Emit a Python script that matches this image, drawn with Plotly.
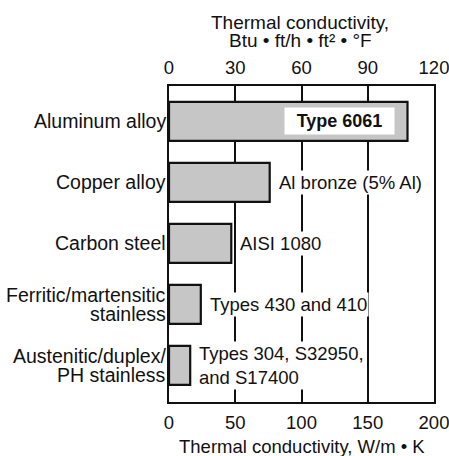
import plotly.graph_objects as go

categories = ["Aluminum alloy", "Copper alloy", "Carbon steel",
              "Ferritic/martensitic<br>stainless", "Austenitic/duplex/<br>PH stainless"]
values = [180, 76, 47, 24, 16]
bar_labels = ["Type 6061", "Al bronze (5% Al)", "AISI 1080",
              "Types 430 and 410", "Types 304, S32950,<br>and S17400"]
si_ticks = [0, 50, 100, 150, 200]
btu_ticks = [0, 30, 60, 90, 120]
top_title = ["Thermal conductivity,", "Btu • ft/h • ft² • °F"]
bottom_title = "Thermal conductivity, W/m • K"

FONT = "Liberation Sans, Arial, Helvetica, sans-serif"
INK = "#111111"

fig = go.Figure()
fig.add_trace(go.Bar(
    x=values, y=categories, orientation="h",
    marker=dict(color="#c6c6c6", line=dict(color=INK, width=2.2)),
    width=0.64, hoverinfo="skip", showlegend=False,
))
# invisible trace that carries the top (Btu) axis
fig.add_trace(go.Scatter(x=[btu_ticks[0], btu_ticks[-1]], y=[categories[0], categories[0]],
                         xaxis="x2", mode="markers", marker=dict(opacity=0, size=1),
                         hoverinfo="skip", showlegend=False))

annotations = []
for cat in categories:
    lines = cat.split("<br>")
    n = len(lines)
    for i, ln in enumerate(lines):
        annotations.append(dict(
            text=ln, xref="paper", x=0, yref="y", y=cat,
            xanchor="right", yanchor="middle", xshift=-1,
            yshift=((n - 1) / 2 - i) * 18.5, showarrow=False,
            font=dict(family=FONT, size=19.5, color=INK)))
for i, (cat, v, lab) in enumerate(zip(categories, values, bar_labels)):
    if i == 0:
        annotations.append(dict(
            text="<b>" + lab + "</b>", x=v, y=cat, xref="x", yref="y",
            xanchor="right", yanchor="middle", xshift=-13, showarrow=False,
            width=109, height=26, bgcolor="white", borderpad=0,
            font=dict(family=FONT, size=18, color=INK)))
    else:
        annotations.append(dict(
            text=lab, x=v, y=cat, xref="x", yref="y", align="left",
            xanchor="left", yanchor="middle", xshift=7, showarrow=False,
            bgcolor="white", borderpad=1,
            font=dict(family=FONT, size=18.5, color=INK)))
for i, ln in enumerate(top_title):
    annotations.append(dict(
        text=ln, xref="paper", x=0.495, yref="paper", y=1,
        xanchor="center", yanchor="middle", yshift=64 - i * 18.5,
        showarrow=False, font=dict(family=FONT, size=19, color=INK)))
annotations.append(dict(
    text=bottom_title, xref="paper", x=0.5, yref="paper", y=0,
    xanchor="center", yanchor="middle", yshift=-44,
    showarrow=False, font=dict(family=FONT, size=18.5, color=INK)))

fig.update_layout(
    width=449, height=456,
    margin=dict(l=169, r=15, t=86, b=54, autoexpand=False),
    paper_bgcolor="white", plot_bgcolor="rgba(0,0,0,0)",
    font=dict(family=FONT, size=18, color=INK),
    xaxis=dict(range=[0, 200], tickvals=si_ticks, showgrid=True, gridcolor=INK,
               gridwidth=1.5, zeroline=False, showline=True, linecolor=INK,
               linewidth=2, mirror=True, ticks="", ticklabelstandoff=3,
               ticklabeloverflow="allow", automargin=False,
               tickfont=dict(family=FONT, size=18.5, color=INK)),
    xaxis2=dict(range=[0, 120], tickvals=btu_ticks, overlaying="x", side="top",
                showgrid=False, zeroline=False, showline=False, ticks="",
                ticklabelstandoff=7, ticklabeloverflow="allow", automargin=False,
                tickfont=dict(family=FONT, size=18.5, color=INK)),
    yaxis=dict(type="category", categoryarray=categories, range=[4.60, -0.58],
               showticklabels=False, ticks="", showgrid=False, zeroline=False,
               showline=True, linecolor=INK, linewidth=2, mirror=True,
               automargin=False),
    annotations=annotations,
)

fig.write_html("out.html", config={"displayModeBar": False},
               post_script="document.body.style.margin='0';")
